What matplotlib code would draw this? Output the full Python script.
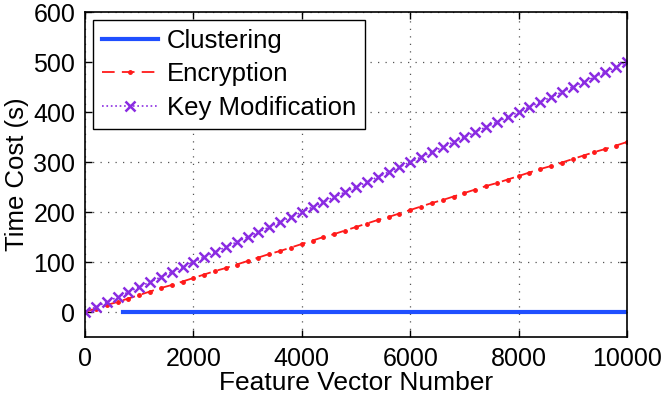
import matplotlib
matplotlib.use("Agg")
import matplotlib.pyplot as plt

plt.rcParams['font.family'] = ['Liberation Sans', 'DejaVu Sans']

# Data
x_vals = [0, 200, 400, 600, 800, 1000, 1200, 1400, 1600, 1800,
          2000, 2200, 2400, 2600, 2800, 3000, 3200, 3400, 3600, 3800,
          4000, 4200, 4400, 4600, 4800, 5000, 5200, 5400, 5600, 5800,
          6000, 6200, 6400, 6600, 6800, 7000, 7200, 7400, 7600, 7800,
          8000, 8200, 8400, 8600, 8800, 9000, 9200, 9400, 9600, 9800, 10000]
encryption = [0, 7, 14, 20, 27, 34, 41, 48, 54, 61,
              68, 75, 82, 88, 95, 102, 109, 116, 122, 129,
              136, 143, 150, 156, 163, 170, 177, 184, 190, 197,
              204, 211, 218, 224, 231, 238, 245, 252, 258, 265,
              272, 279, 286, 292, 299, 306, 313, 320, 326, 333, 340]
key_mod = [0, 10, 20, 30, 40, 50, 60, 70, 80, 90,
           100, 110, 120, 130, 140, 150, 160, 170, 180, 190,
           200, 210, 220, 230, 240, 250, 260, 270, 280, 290,
           300, 310, 320, 330, 340, 350, 360, 370, 380, 390,
           400, 410, 420, 430, 440, 450, 460, 470, 480, 490, 500]
clust_x = [700, 2000, 4000, 6000, 8000, 10000]
clustering = [0.5, 0.5, 0.5, 0.5, 0.5, 0.5]

x_ticks = [0, 2000, 4000, 6000, 8000, 10000]
y_ticks = [0, 100, 200, 300, 400, 500, 600]

fig = plt.figure(figsize=(6.64, 3.99), dpi=100)
ax = fig.add_axes([85/664, 62/399, (627-85)/664, (337-12)/399])

ax.plot(clust_x, clustering, '-', color='#1f4fff', lw=3, label='Clustering')
ax.plot(x_vals, encryption, '--', color='#ff1a1a', lw=1.3, marker='.',
        markersize=5, dashes=(7, 4), label='Encryption')
ax.plot(x_vals, key_mod, ':', color='#8a2be2', lw=1.2, marker='x',
        markersize=7.5, markeredgewidth=1.8, label='Key Modification')

ax.set_xlim(0, 10000)
ax.set_ylim(-50, 600)
ax.set_xticks(x_ticks)
ax.set_yticks(y_ticks)
ax.tick_params(direction='in', length=5, labelsize=18, top=True, right=True,
               width=1, pad=7)
ax.grid(True, color='#555555', linestyle=(0, (1, 5)), lw=0.9)
for s in ax.spines.values():
    s.set_linewidth(1.2)

ax.set_xlabel('Feature Vector Number', fontsize=19, labelpad=0)
ax.set_ylabel('Time Cost (s)', fontsize=18.5, labelpad=3)

leg = ax.legend(loc='upper left', fontsize=18.5, frameon=True, fancybox=False,
                edgecolor='black', framealpha=1, borderaxespad=0.3,
                handlelength=2.2, labelspacing=0.38, borderpad=0.35,
                handletextpad=0.35, numpoints=1)
leg.get_frame().set_linewidth(1.0)

fig.savefig('out.png', dpi=100)
